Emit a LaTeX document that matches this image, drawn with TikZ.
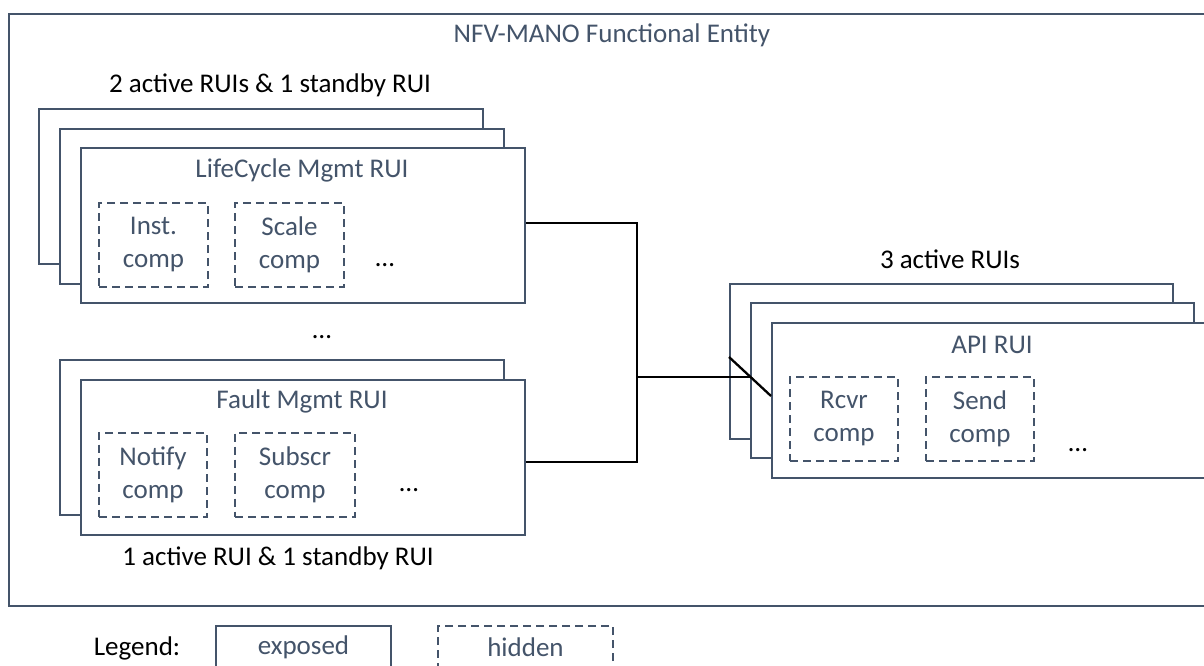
\documentclass[tikz,border=0pt]{standalone}
\usepackage{fontspec}
\setmainfont{Carlito}
\definecolor{slate}{HTML}{44546A}
\newcommand\diagfont{\fontsize{27}{33}\selectfont}
\begin{document}
\begin{tikzpicture}[x=1pt,y=-1pt,
  box/.style={draw=slate, line width=2pt, fill=white, inner sep=0pt, anchor=north west},
  rui/.style={box, minimum width=444pt, minimum height=155pt},
  comp/.style={draw=slate, line width=2pt, dash pattern=on 8pt off 5pt, fill=white,
    inner sep=0pt, minimum height=84pt, align=center, text=slate, font=\diagfont},
  wire/.style={draw=black, line width=2.3pt},
  ttl/.style={text=slate, font=\diagfont, inner sep=0pt},
  plainlbl/.style={text=black, font=\diagfont, inner sep=0pt}]
\useasboundingbox (0,0) rectangle (1204,666);
\clip (0,0) rectangle (1204,666);

% enclosing functional entity
\node[box, minimum width=1222pt, minimum height=592pt] (nfv) at (8,13) {};
\node[ttl] (nfvT) at (612,35) {NFV-MANO Functional Entity};

% lifecycle management stack (3 instances)
\node[plainlbl] (lcL) at (270,85) {2 active RUIs \& 1 standby RUI};
\node[rui] (lc1) at (38,108) {};
\node[rui] (lc2) at (59,128) {};
\node[rui] (lc3) at (80,147) {};
\node[ttl] (lcT) at (302,170) {LifeCycle Mgmt RUI};
\node[comp, minimum width=109pt] (inst) at (153.5,245) {Inst.\\comp};
\node[comp, minimum width=109pt] (scale) at (289.5,245) {Scale\\comp};
\node[plainlbl] (lcD) at (385,265) {\dots};

\node[plainlbl] (midD) at (322,337) {\dots};

% fault management stack (2 instances)
\node[rui] (fm1) at (59,359) {};
\node[rui] (fm2) at (80,379) {};
\node[ttl] (fmT) at (302,401) {Fault Mgmt RUI};
\node[comp, minimum width=108pt] (notify) at (153,474.5) {Notify\\comp};
\node[comp, minimum width=120pt] (subscr) at (295,474.5) {Subscr\\comp};
\node[plainlbl] (fmD) at (409,490) {\dots};
\node[plainlbl] (fmL) at (278,558) {1 active RUI \& 1 standby RUI};

% API stack (3 instances)
\node[plainlbl] (apiL) at (950,259) {3 active RUIs};
\node[rui, minimum width=443pt] (api1) at (729,283) {};
\node[rui, minimum width=443pt] (api2) at (750,302) {};
\node[rui, minimum width=443pt] (api3) at (771,322) {};
\node[ttl] (apiT) at (992,345) {API RUI};
\node[comp, minimum width=108pt] (rcvr) at (844,419) {Rcvr\\comp};
\node[comp, minimum width=108pt] (send) at (980,419) {Send\\comp};
\node[plainlbl] (apiD) at (1078,450) {\dots};

% interconnection
\coordinate (busT) at (637,223);
\coordinate (busM) at (637,377);
\coordinate (busB) at (637,462);
\coordinate (fanA) at (0,357);
\coordinate (fanB) at (0,396);
\draw[wire] (lc3.east |- busT) -- (busT) -- (busB) -- (fm2.east |- busB);
\draw[wire] (busM) -- (api2.west |- busM);
\draw[wire] (api1.west |- fanA) -- (api3.west |- fanB);

% legend
\node[plainlbl] (leg) at (137,648) {Legend:};
\node[box, anchor=center, minimum width=175pt, minimum height=42pt, text=slate, font=\diagfont] (exp) at (303.5,647) {exposed};
\node[comp, anchor=center, minimum width=175pt, minimum height=42pt] (hid) at (525.5,647) {hidden};
\end{tikzpicture}
\end{document}
